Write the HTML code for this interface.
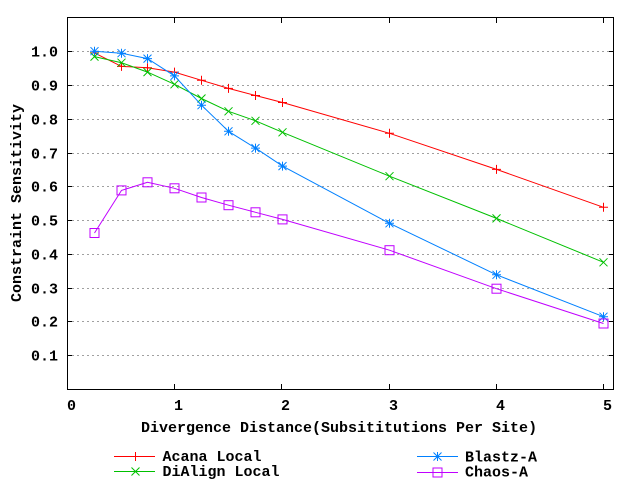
<!DOCTYPE html>
<html>
<head>
<meta charset="utf-8">
<style>
  html, body { margin: 0; padding: 0; background: #ffffff; }
  svg { display: block; }
  text { font-family: "Liberation Mono", "DejaVu Sans Mono", monospace; font-size: 15px; font-weight: bold; fill: #000; }
</style>
</head>
<body>
<svg width="640" height="480" viewBox="0 0 640 480" xmlns="http://www.w3.org/2000/svg">
  <rect x="0" y="0" width="640" height="480" fill="#fff"/>

  <!-- grid lines -->
  <g stroke="#a0a0a0" stroke-width="1" stroke-dasharray="2,3" shape-rendering="crispEdges">
    <line x1="72" y1="51.5" x2="609" y2="51.5"/>
    <line x1="72" y1="85.5" x2="609" y2="85.5"/>
    <line x1="72" y1="119.5" x2="609" y2="119.5"/>
    <line x1="72" y1="153.5" x2="609" y2="153.5"/>
    <line x1="72" y1="186.5" x2="609" y2="186.5"/>
    <line x1="72" y1="220.5" x2="609" y2="220.5"/>
    <line x1="72" y1="254.5" x2="609" y2="254.5"/>
    <line x1="72" y1="288.5" x2="609" y2="288.5"/>
    <line x1="72" y1="321.5" x2="609" y2="321.5"/>
    <line x1="72" y1="355.5" x2="609" y2="355.5"/>
  </g>

  <!-- frame and ticks -->
  <g stroke="#000" stroke-width="1" fill="none" shape-rendering="crispEdges">
    <rect x="67.5" y="17.5" width="546" height="372"/>
    <!-- y ticks left -->
    <path d="M67 51.5h5M67 85.5h5M67 119.5h5M67 153.5h5M67 186.5h5M67 220.5h5M67 254.5h5M67 288.5h5M67 321.5h5M67 355.5h5"/>
    <!-- y ticks right -->
    <path d="M614 51.5h-5M614 85.5h-5M614 119.5h-5M614 153.5h-5M614 186.5h-5M614 220.5h-5M614 254.5h-5M614 288.5h-5M614 321.5h-5M614 355.5h-5"/>
    <!-- x ticks bottom -->
    <path d="M174.5 389v-5M281.5 389v-5M389.5 389v-5M496.5 389v-5M603.5 389v-5"/>
    <!-- x ticks top -->
    <path d="M174.5 18v5M281.5 18v5M389.5 18v5M496.5 18v5M603.5 18v5"/>
  </g>

  <!-- y tick labels -->
  <g text-anchor="end">
    <text x="58" y="56.5">1.0</text>
    <text x="58" y="90.5">0.9</text>
    <text x="58" y="124.5">0.8</text>
    <text x="58" y="158.5">0.7</text>
    <text x="58" y="191.5">0.6</text>
    <text x="58" y="225.5">0.5</text>
    <text x="58" y="259.5">0.4</text>
    <text x="58" y="293.5">0.3</text>
    <text x="58" y="326.5">0.2</text>
    <text x="58" y="360.5">0.1</text>
  </g>

  <!-- x tick labels -->
  <g>
    <text x="67" y="410">0</text>
    <text x="174" y="410">1</text>
    <text x="281" y="410">2</text>
    <text x="389" y="410">3</text>
    <text x="496" y="410">4</text>
    <text x="603" y="410">5</text>
  </g>

  <!-- axis labels -->
  <text x="141" y="432">Divergence Distance(Subsititutions Per Site)</text>
  <text transform="translate(21,203) rotate(-90)" text-anchor="middle">Constraint Sensitivity</text>

  <defs>
    <path id="plus" d="M-4.5 0H4.5M0 -4.5V4.5"/>
    <path id="cross" d="M-4 -4L4 4M-4 4L4 -4"/>
    <path id="star" d="M-4.5 0H4.5M0 -4.5V4.5M-4 -4L4 4M-4 4L4 -4"/>
    <rect id="sq" x="-4.5" y="-4.5" width="9" height="9"/>
  </defs>

  <!-- Acana Local (red, +) -->
  <g stroke="#ff0000" stroke-width="1" fill="none">
    <polyline points="94.5,52.9 121.5,66.4 147.5,67.7 174.5,72.1 201.5,80.3 228.5,88.4 255.5,95.5 282.5,102.5 389.5,133.3 496.5,169.4 603.5,207.3"/>
    <use href="#plus" x="94.5" y="52.9"/>
    <use href="#plus" x="121.5" y="66.4"/>
    <use href="#plus" x="147.5" y="67.7"/>
    <use href="#plus" x="174.5" y="72.1"/>
    <use href="#plus" x="201.5" y="80.3"/>
    <use href="#plus" x="228.5" y="88.4"/>
    <use href="#plus" x="255.5" y="95.5"/>
    <use href="#plus" x="282.5" y="102.5"/>
    <use href="#plus" x="389.5" y="133.3"/>
    <use href="#plus" x="496.5" y="169.4"/>
    <use href="#plus" x="603.5" y="207.3"/>
  </g>

  <!-- DiAlign Local (green, x) -->
  <g stroke="#00c000" stroke-width="1" fill="none">
    <polyline points="94.5,56.6 121.5,62.7 147.5,72.1 174.5,84.3 201.5,98.5 228.5,111.3 255.5,120.8 282.5,132.3 389.5,176.2 496.5,218.4 603.5,262.3"/>
    <use href="#cross" x="94.5" y="56.6"/>
    <use href="#cross" x="121.5" y="62.7"/>
    <use href="#cross" x="147.5" y="72.1"/>
    <use href="#cross" x="174.5" y="84.3"/>
    <use href="#cross" x="201.5" y="98.5"/>
    <use href="#cross" x="228.5" y="111.3"/>
    <use href="#cross" x="255.5" y="120.8"/>
    <use href="#cross" x="282.5" y="132.3"/>
    <use href="#cross" x="389.5" y="176.2"/>
    <use href="#cross" x="496.5" y="218.4"/>
    <use href="#cross" x="603.5" y="262.3"/>
  </g>

  <!-- Blastz-A (blue, *) -->
  <g stroke="#0080ff" stroke-width="1" fill="none">
    <polyline points="94.5,51.2 121.5,53.2 147.5,58.6 174.5,75.9 201.5,105.2 228.5,131.3 255.5,148.1 282.5,166.1 389.5,223.3 496.5,274.8 603.5,316.7"/>
    <use href="#star" x="94.5" y="51.2"/>
    <use href="#star" x="121.5" y="53.2"/>
    <use href="#star" x="147.5" y="58.6"/>
    <use href="#star" x="174.5" y="75.9"/>
    <use href="#star" x="201.5" y="105.2"/>
    <use href="#star" x="228.5" y="131.3"/>
    <use href="#star" x="255.5" y="148.1"/>
    <use href="#star" x="282.5" y="166.1"/>
    <use href="#star" x="389.5" y="223.3"/>
    <use href="#star" x="496.5" y="274.8"/>
    <use href="#star" x="603.5" y="316.7"/>
  </g>

  <!-- Chaos-A (purple, square) -->
  <g stroke="#c000ff" stroke-width="1" fill="none">
    <polyline points="94.5,233.0 121.5,190.4 147.5,182.3 174.5,188.3 201.5,197.5 228.5,205.2 255.5,212.3 282.5,219.4 389.5,250.2 496.5,288.7 603.5,323.5"/>
    <use href="#sq" x="94.5" y="233.0"/>
    <use href="#sq" x="121.5" y="190.4"/>
    <use href="#sq" x="147.5" y="182.3"/>
    <use href="#sq" x="174.5" y="188.3"/>
    <use href="#sq" x="201.5" y="197.5"/>
    <use href="#sq" x="228.5" y="205.2"/>
    <use href="#sq" x="255.5" y="212.3"/>
    <use href="#sq" x="282.5" y="219.4"/>
    <use href="#sq" x="389.5" y="250.2"/>
    <use href="#sq" x="496.5" y="288.7"/>
    <use href="#sq" x="603.5" y="323.5"/>
  </g>

  <!-- legend -->
  <g stroke-width="1" fill="none">
    <g stroke="#ff0000">
      <line x1="114" y1="456.5" x2="155" y2="456.5"/>
      <use href="#plus" x="135.5" y="456.5"/>
    </g>
    <g stroke="#00c000">
      <line x1="114" y1="471.5" x2="155" y2="471.5"/>
      <use href="#cross" x="135.5" y="471.5"/>
    </g>
    <g stroke="#0080ff">
      <line x1="417" y1="456.5" x2="458" y2="456.5"/>
      <use href="#star" x="437.5" y="456.5"/>
    </g>
    <g stroke="#c000ff">
      <line x1="417" y1="472.5" x2="458" y2="472.5"/>
      <use href="#sq" x="437.5" y="472.5"/>
    </g>
  </g>
  <text x="162.5" y="461">Acana Local</text>
  <text x="162.5" y="476">DiAlign Local</text>
  <text x="465" y="461.5">Blastz-A</text>
  <text x="465" y="476.5">Chaos-A</text>
</svg>
</body>
</html>
